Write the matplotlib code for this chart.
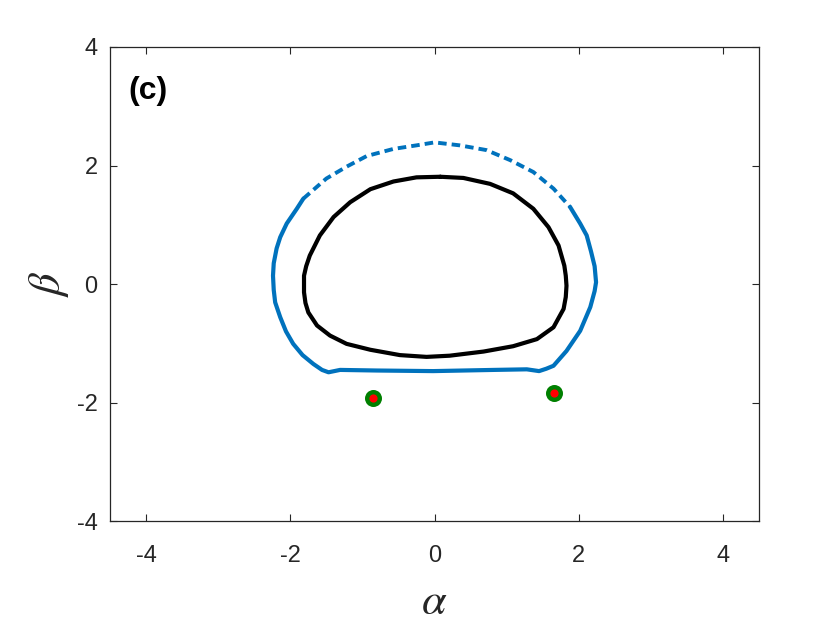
import matplotlib
matplotlib.use("Agg")
import matplotlib.pyplot as plt

plt.rcParams['font.family'] = ['Liberation Sans', 'DejaVu Sans']
plt.rcParams['mathtext.fontset'] = 'stix'

# Outer (blue) orbit: sparse top part and dense lower part
blue_top_alpha = [-1.82, -1.50, -1.22, -0.94, -0.57, -0.25, 0.00, 0.35, 0.72, 1.05, 1.37, 1.65, 1.88]
blue_top_beta = [1.44, 1.78, 1.98, 2.16, 2.28, 2.34, 2.39, 2.34, 2.26, 2.09, 1.89, 1.61, 1.30]
blue_low_alpha = [-1.82, -1.91, -2.05, -2.14, -2.19, -2.23, -2.24, -2.23, -2.21, -2.14, -2.06, -1.96,
                  -1.83, -1.68, -1.56, -1.47, -1.31, -0.80, -0.02, 0.82, 1.28, 1.45, 1.55, 1.65,
                  1.83, 2.02, 2.16, 2.22, 2.24, 2.22, 2.17, 2.11, 2.02, 1.88]
blue_low_beta = [1.44, 1.27, 1.02, 0.79, 0.60, 0.35, 0.14, -0.10, -0.31, -0.56, -0.80, -1.01,
                 -1.20, -1.35, -1.45, -1.49, -1.45, -1.46, -1.47, -1.45, -1.44, -1.47, -1.43, -1.38,
                 -1.13, -0.79, -0.39, -0.12, 0.03, 0.30, 0.55, 0.82, 1.02, 1.30]

# Inner (black) closed orbit
black_alpha = [0.08, -0.25, -0.57, -0.89, -1.17, -1.40, -1.59, -1.73, -1.78, -1.81, -1.81, -1.79,
               -1.75, -1.63, -1.45, -1.22, -0.89, -0.48, -0.11, 0.21, 0.68, 1.09, 1.42, 1.65,
               1.79, 1.82, 1.83, 1.82, 1.80, 1.72, 1.58, 1.37, 1.09, 0.77, 0.40, 0.08]
black_beta = [1.81, 1.80, 1.73, 1.60, 1.38, 1.13, 0.82, 0.48, 0.30, 0.14, -0.14, -0.32,
              -0.48, -0.70, -0.87, -1.01, -1.11, -1.20, -1.23, -1.21, -1.14, -1.05, -0.93, -0.73,
              -0.42, -0.22, -0.03, 0.14, 0.31, 0.65, 0.96, 1.27, 1.53, 1.69, 1.79, 1.81]

# Fixed points
fp_alpha = [-0.85, 1.66]
fp_beta = [-1.93, -1.84]

xticks = [-4, -2, 0, 2, 4]
yticks = [-4, -2, 0, 2, 4]

fig = plt.figure(figsize=(8.4, 6.3), dpi=100)
ax = fig.add_axes([0.131, 0.173, 0.7726, 0.7524])

blue = '#0072BD'
ax.plot(blue_low_alpha, blue_low_beta, color=blue, lw=3.0,
        solid_joinstyle='round', solid_capstyle='round')
ax.plot(blue_top_alpha, blue_top_beta, color=blue, lw=2.8, linestyle=(0, (2.2, 1.3)))
ax.plot(black_alpha, black_beta, color='black', lw=3.0,
        solid_joinstyle='round', solid_capstyle='round')
ax.scatter(fp_alpha, fp_beta, s=150, color='green', zorder=5, linewidths=0)
ax.scatter(fp_alpha, fp_beta, s=35, color='red', zorder=6, linewidths=0)

ax.set_xlim(-4.5, 4.5)
ax.set_ylim(-4, 4)
ax.set_xticks(xticks)
ax.set_yticks(yticks)
ax.set_xticklabels([str(v) for v in xticks])
ax.set_yticklabels([str(v) for v in yticks])
ax.tick_params(direction='in', length=5, width=0.8, colors='#262626', labelsize=17,
               top=True, right=True)
ax.tick_params(axis='x', pad=17)
ax.tick_params(axis='y', pad=9)
for s in ax.spines.values():
    s.set_color('#262626')
    s.set_linewidth(0.9)

ax.set_xlabel(r'$\alpha$', fontsize=32, labelpad=11, color='#262626')
ax.set_ylabel(r'$\beta$', fontsize=32, labelpad=4, color='#262626')

ax.text(0.028, 0.907, '(c)', transform=ax.transAxes, fontsize=23, fontweight='bold',
        va='center', ha='left', color='black')

fig.savefig('out.png', dpi=100)
